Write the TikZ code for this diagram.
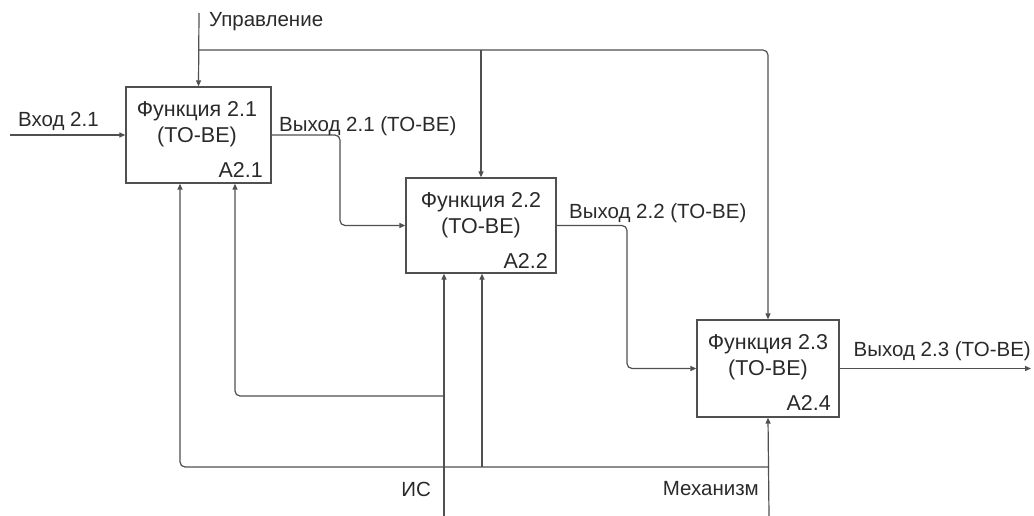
\documentclass[tikz,border=0pt]{standalone}
\usepackage{fontspec}
\setmainfont{Liberation Sans}
\usetikzlibrary{arrows.meta}
\definecolor{ln}{HTML}{505050}
\definecolor{tx}{HTML}{2A2A2A}
\tikzset{
  fbox/.style={draw=ln, line width=1.3pt, rectangle, inner sep=0pt},
  conn/.style={draw=ln, line width=1.2pt, rounded corners=5pt},
  arr/.style={conn, -{Triangle[length=6pt,width=5pt]}},
  lbl/.style={text=tx, font=\fontsize{20.5}{22}\selectfont, inner sep=0pt},
  btxt/.style={text=tx, font=\fontsize{21.5}{26}\selectfont, inner sep=0pt, align=center},
}
\begin{document}
\begin{tikzpicture}[x=1pt,y=-1pt]
\useasboundingbox (0,0) rectangle (1034,516);
% boxes
\node[fbox, minimum width=145pt, minimum height=96pt] (b1) at (198.5,135) {};
\node[fbox, minimum width=150pt, minimum height=95pt] (b2) at (481,225.5) {};
\node[fbox, minimum width=142pt, minimum height=97pt] (b3) at (768,368.5) {};
% box texts
\node[btxt] (t1) at (197,124) {Функция 2.1\\(TO-BE)};
\node[btxt, anchor=east] (a1) at (263,170) {A2.1};
\node[btxt] (t2) at (481,215) {Функция 2.2\\(TO-BE)};
\node[btxt, anchor=east] (a2) at (548,261) {A2.2};
\node[btxt] (t3) at (768,357) {Функция 2.3\\(TO-BE)};
\node[btxt, anchor=east] (a3) at (831,403) {A2.4};
% free ends
\coordinate (ctl) at (199,13);
\coordinate (inp) at (10,135);
\coordinate (out3) at (1031,368.5);
\coordinate (isbot) at (444,516);
\coordinate (mbot) at (769,516);
\coordinate (cj) at (199,50);
\coordinate (c2) at (481,50);
\coordinate (is1) at (444,396);
\coordinate (m1) at (769,467);
\coordinate (m2) at (482,467);
% control
\draw[arr] (ctl) -- (b1.north);
\draw[arr] (cj) -| (b3.north);
\draw[arr] (c2) -- (b2.north);
% input
\draw[arr] (inp) -- (b1.west);
% outputs
\draw[arr] (b1.east) -- (340,135) -- (340,225.5) -- (b2.west);
\draw[arr] (b2.east) -- (627,225.5) -- (627,368.5) -- (b3.west);
\draw[arr] (b3.east) -- (out3);
% mechanisms
\draw[arr] (isbot) -- (b2.south -| isbot);
\draw[arr] (is1) -| (b1.south -| 235,0);
\draw[arr] (mbot) -- (b3.south);
\draw[arr] (m1) -| (b1.south -| 180,0);
\draw[arr] (m2) -| (b2.south -| m2);
% labels
\node[lbl, anchor=west] (lctl) at (209,22) {Управление};
\node[lbl, anchor=west] (lin) at (18,121) {Вход 2.1};
\node[lbl, anchor=west] (lo1) at (279,126) {Выход 2.1 (TO-BE)};
\node[lbl, anchor=west] (lo2) at (569,213) {Выход 2.2 (TO-BE)};
\node[lbl, anchor=east] (lo3) at (1031,351) {Выход 2.3 (TO-BE)};
\node[lbl, anchor=east] (lis) at (431,489) {ИС};
\node[lbl, anchor=east] (lm) at (759,489) {Механизм};
\end{tikzpicture}
\end{document}
